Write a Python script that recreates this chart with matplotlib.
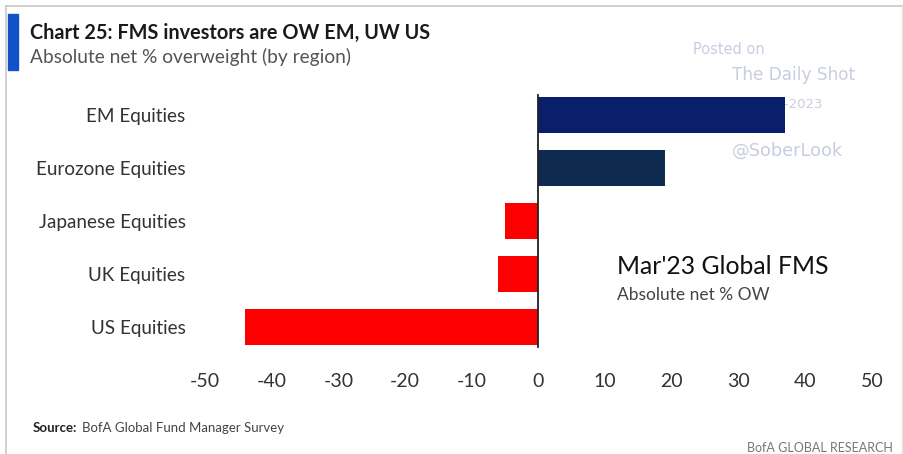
import matplotlib
matplotlib.use("Agg")
import matplotlib.pyplot as plt
from matplotlib.patches import Rectangle
from matplotlib.lines import Line2D

plt.rcParams['font.family'] = ['Lato', 'DejaVu Sans']

W, H = 904, 454

categories = ["EM Equities", "Eurozone Equities", "Japanese Equities",
              "UK Equities", "US Equities"]
values = [37, 19, -5, -6, -44]
bar_colors = ["#0a1f6c", "#0f2a4f", "#ff0000", "#ff0000", "#ff0000"]
xticks = [-50, -40, -30, -20, -10, 0, 10, 20, 30, 40, 50]


def fx(px):
    return px / W


def fy(py):
    return 1 - py / H


fig = plt.figure(figsize=(W / 100, H / 100), dpi=100)
fig.patch.set_facecolor("white")

# frame lines (top, left, right)
fig.add_artist(Line2D([fx(6), fx(903)], [fy(6), fy(6)], color="#c8c8c8", lw=1.2))
fig.add_artist(Line2D([fx(6), fx(6)], [fy(6), 0], color="#c8c8c8", lw=1.2))
fig.add_artist(Line2D([fx(902), fx(902)], [fy(6), 0], color="#e4e4e4", lw=1.0))

# blue accent bar
fig.add_artist(Rectangle((fx(8), fy(70)), fx(10), 56 / H, color="#1152c8",
                         transform=fig.transFigure))

fig.text(fx(30), fy(33), "Chart 25: FMS investors are OW EM, UW US",
         fontsize=14.3, fontweight="bold", color="#1a1a1a", va="center")
fig.text(fx(30), fy(57), "Absolute net % overweight (by region)",
         fontsize=13.8, color="#555555", va="center")

ax = fig.add_axes([fx(205), fy(353.5), fx(667), 265 / H])
y = list(range(len(categories)))
ax.barh(y, values, height=0.68, color=bar_colors, zorder=3)
ax.axvline(0, ymin=0.025, ymax=0.975, color="#222222", lw=1.3, zorder=4)
ax.set_xlim(-50, 50)
ax.set_ylim(len(categories) - 0.5, -0.5)
ax.set_yticks(y)
ax.set_yticklabels(categories)
ax.set_xticks(xticks)
ax.set_xticklabels([str(t) for t in xticks])
ax.tick_params(axis="y", length=0, pad=14, labelsize=13.6, labelcolor="#333333")
ax.tick_params(axis="x", length=0, pad=14, labelsize=14, labelcolor="#333333")
for s in ax.spines.values():
    s.set_visible(False)

# watermark
wm = "#c9cde0"
fig.text(fx(729), fy(49), "Posted on", fontsize=10.5, color=wm, ha="center",
         va="center", family="DejaVu Sans")
fig.text(fx(794), fy(75), "The Daily Shot", fontsize=12.2, color=wm, ha="center",
         va="center", family="DejaVu Sans")
# date sits behind the EM bar
ax.text(fx(780), fy(104), "22-Mar-2023", fontsize=9.5, color=wm, ha="center",
        va="center", family="DejaVu Sans", transform=fig.transFigure, zorder=1)
fig.text(fx(788), fy(151), "@SoberLook", fontsize=12.8, color=wm, ha="center",
         va="center", family="DejaVu Sans")

fig.text(fx(617), fy(267), "Mar'23 Global FMS", fontsize=17.8, color="#111111",
         va="center")
fig.text(fx(617), fy(295), "Absolute net % OW", fontsize=12.5, color="#444444",
         va="center")

fig.text(fx(33), fy(428), "Source:", fontsize=9.5, fontweight="bold",
         color="#222222", va="center")
fig.text(fx(82), fy(428), "BofA Global Fund Manager Survey", fontsize=9.5,
         color="#444444", va="center")
fig.text(fx(893), fy(448), "BofA GLOBAL RESEARCH", fontsize=9, color="#777777",
         ha="right", va="center")

fig.savefig("out.png", dpi=100, facecolor="white")
